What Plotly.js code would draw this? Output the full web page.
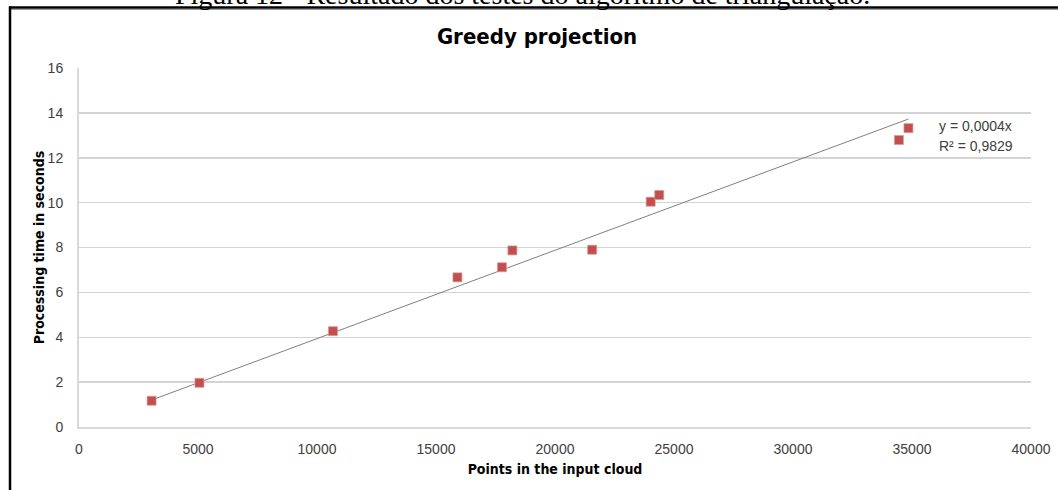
<!DOCTYPE html>
<html>
<head>
<meta charset="utf-8">
<script src="https://cdn.plot.ly/plotly-3.0.1.min.js"></script>
<style>
html,body{margin:0;padding:0;background:#fff;}
#chart{width:1058px;height:490px;}
</style>
</head>
<body>
<div id="chart"></div>
<script>
// Data
var pointsInCloud = [3050, 5060, 10670, 15900, 17770, 18210, 21560, 24020, 24380, 34450, 34850];
var processingTime = [1.17, 1.97, 4.27, 6.67, 7.12, 7.87, 7.90, 10.04, 10.34, 12.79, 13.32];
var yTicks = [0, 2, 4, 6, 8, 10, 12, 14, 16];
var xTicks = [0, 5000, 10000, 15000, 20000, 25000, 30000, 35000, 40000];
var equationLabel = "y = 0,0004x";
var r2Label = "R² = 0,9829";
var captionText = "Figura 12 - Resultado dos testes do algoritmo de triangulação.";
var chartTitle = "Greedy projection";
var xTitle = "Points in the input cloud";
var yTitle = "Processing time in seconds";

// Linear trendline through origin (least squares)
var sxy = 0, sxx = 0;
for (var i = 0; i < pointsInCloud.length; i++) {
  sxy += pointsInCloud[i] * processingTime[i];
  sxx += pointsInCloud[i] * pointsInCloud[i];
}
var slope = sxy / sxx;
var xMin = Math.min.apply(null, pointsInCloud);
var xMax = Math.max.apply(null, pointsInCloud);
var trendX = [xMin, xMax];
var trendY = [slope * xMin, slope * xMax];

var L = 79, R = 27, T = 68, B = 63, W = 1058, H = 490;
var pw = W - L - R, ph = H - T - B;
function px2x(p){ return (p - L) / pw; }
function px2y(p){ return (H - B - p) / ph; }

var narrow = '"DejaVu Sans Condensed", "Liberation Sans Narrow", "Arial Narrow", sans-serif';
var sans = '"Liberation Sans", Arial, sans-serif';

var traces = [
  {
    x: trendX, y: trendY, mode: 'lines', type: 'scatter',
    line: {color: '#7f7f7f', width: 1}, hoverinfo: 'skip', showlegend: false
  },
  {
    x: pointsInCloud, y: processingTime, mode: 'markers', type: 'scatter',
    marker: {symbol: 'square', size: 9, color: '#c0504d', line: {color: 'rgba(225,150,150,0.7)', width: 1}},
    showlegend: false
  }
];

var layout = {
  width: W, height: H,
  margin: {l: L, r: R, t: T, b: B, pad: 0},
  paper_bgcolor: '#ffffff', plot_bgcolor: '#ffffff',
  showlegend: false,
  title: {
    text: '<b>' + chartTitle + '</b>',
    font: {family: narrow, size: 22, color: '#000'},
    xref: 'paper', x: px2x(537), xanchor: 'center',
    yref: 'container', y: 1 - 36 / H, yanchor: 'middle'
  },
  xaxis: {
    range: [0, 40000], tickvals: xTicks, ticktext: xTicks.map(String),
    showgrid: false, zeroline: false,
    showline: true, linecolor: '#d9d9d9', linewidth: 2,
    ticks: 'outside', ticklen: 8, tickcolor: 'rgba(0,0,0,0)',
    tickfont: {family: sans, size: 14, color: '#404040'},
    title: {text: '<b>' + xTitle + '</b>', font: {family: narrow, size: 14, color: '#000'}, standoff: 8},
    automargin: false, fixedrange: true
  },
  yaxis: {
    range: [0, 16], tickvals: yTicks, ticktext: yTicks.map(String),
    showgrid: true, gridcolor: '#d4d4d4', gridwidth: 1.5, zeroline: false,
    showline: true, linecolor: '#d9d9d9', linewidth: 2,
    ticks: 'outside', ticklen: 11, tickcolor: 'rgba(0,0,0,0)',
    tickfont: {family: sans, size: 14, color: '#404040'},
    title: {text: '<b>' + yTitle + '</b>', font: {family: narrow, size: 14, color: '#000'}, standoff: 0},
    automargin: false, fixedrange: true
  },
  annotations: [
    {
      text: equationLabel, xref: 'paper', yref: 'paper',
      x: px2x(937), y: px2y(126), xanchor: 'left', yanchor: 'middle',
      showarrow: false, font: {family: sans, size: 14, color: '#404040'}
    },
    {
      text: r2Label, xref: 'paper', yref: 'paper',
      x: px2x(937), y: px2y(146), xanchor: 'left', yanchor: 'middle',
      showarrow: false, font: {family: sans, size: 14, color: '#404040'}
    },
    {
      text: captionText, xref: 'paper', yref: 'paper',
      x: px2x(522), y: px2y(12), xanchor: 'center', yanchor: 'bottom',
      showarrow: false, font: {family: '"Liberation Serif", "Times New Roman", serif', size: 28, color: '#000'}
    }
  ],
  shapes: [
    {type: 'line', xref: 'paper', yref: 'paper', x0: px2x(9), x1: px2x(1070), y0: px2y(7.5), y1: px2y(7.5), line: {color: '#000', width: 2.5}},
    {type: 'line', xref: 'paper', yref: 'paper', x0: px2x(11), x1: px2x(1070), y0: px2y(9.5), y1: px2y(9.5), line: {color: '#9a9a9a', width: 1}},
    {type: 'line', xref: 'paper', yref: 'paper', x0: px2x(10), x1: px2x(10), y0: px2y(6.5), y1: px2y(500), line: {color: '#000', width: 2.5}}
  ]
};

Plotly.newPlot('chart', traces, layout, {displayModeBar: false, staticPlot: true});
</script>
</body>
</html>
